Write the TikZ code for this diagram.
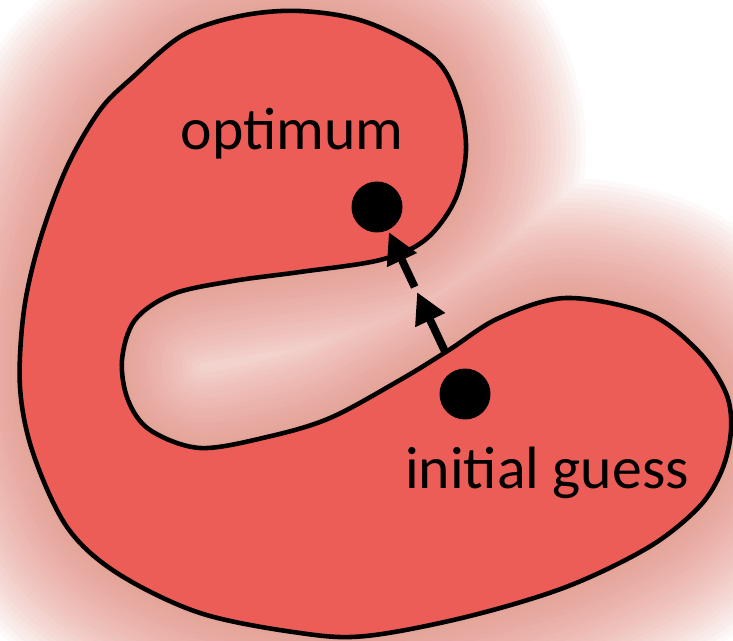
\documentclass[tikz,border=0pt]{standalone}
\usepackage{fontspec}
\setmainfont{Carlito}
\usepackage{tikz}
\usetikzlibrary{arrows.meta,calc}
\definecolor{blobred}{HTML}{EC5D57}
\definecolor{halored}{HTML}{E27E70}
\newcommand{\blobpath}{plot[smooth cycle,tension=0.55] coordinates {
  (300,11) (366,22) (433,57) (458,100) (466,150) (455,200) (425,240) (380,260)
  (300,272) (233,281) (173,294) (135,320) (122,360) (128,400) (150,430) (200,448)
  (267,437) (330,418) (400,380) (449,350) (499,318) (566,298) (649,314) (699,352)
  (726,393) (731,430) (722,470) (699,507) (649,547) (566,587) (466,617) (366,636)
  (300,633) (200,613) (117,573) (67,527) (33,453) (20,387) (24,310) (40,240)
  (67,167) (100,110) (133,77) (183,35) (240,16)}}

\begin{document}
\begin{tikzpicture}[x=0.02cm,y=-0.02cm]
    \tikzset{
      halo/.style={draw=halored,opacity=0.042,line join=round},
      blob/.style={fill=blobred,draw=black,line width=2.6pt},
      dot/.style={circle,fill=black,inner sep=0pt,minimum size=1.02cm},
      lbl/.style={font=\fontsize{34}{40}\selectfont,anchor=base,inner sep=0pt},
      stepline/.style={line width=4.5pt,-{Triangle[length=0.62cm,width=0.62cm]}}
    }
    \useasboundingbox (0,0) rectangle (733,641);
    \clip (0,0) rectangle (733,641);
    \fill[white] (0,0) rectangle (733,641);
    \foreach \w in {0.2,0.4,...,4.8}
      \draw[halo,line width=\w cm] \blobpath;
    \draw[blob] \blobpath;
    \node[dot] (opt) at (377,207) {};
    \node[dot] (guess) at (465,394) {};
    \node[lbl] (optlabel) at (292,150) {optimum};
    \node[lbl] (guesslabel) at (547,488) {initial guess};
    \draw[stepline] ($(guess)!0.22!(opt)$) -- ($(guess)!0.545!(opt)$);
    \draw[stepline] ($(guess)!0.572!(opt)$) -- ($(guess)!0.866!(opt)$);
  \end{tikzpicture}
\end{document}
